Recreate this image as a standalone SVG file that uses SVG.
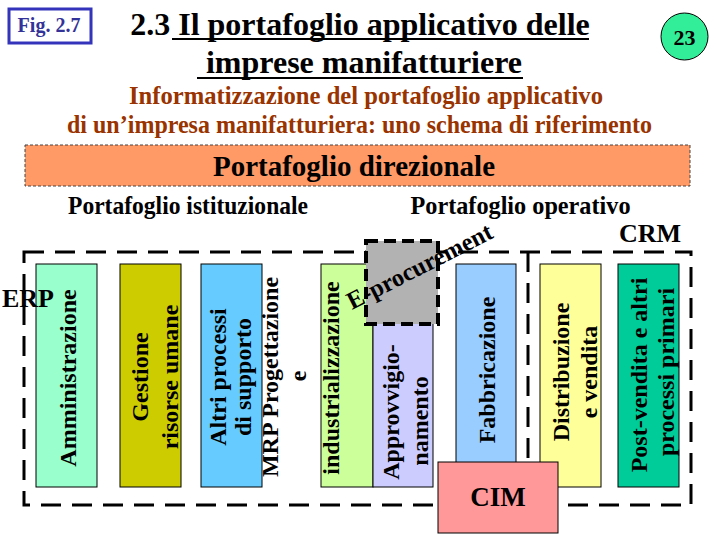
<svg xmlns="http://www.w3.org/2000/svg" width="720" height="540" viewBox="0 0 720 540" font-family="'Liberation Serif', 'DejaVu Serif', 'Times New Roman', serif" font-weight="bold">
<style>
  text { font-family: 'Liberation Serif', 'DejaVu Serif', 'Times New Roman', serif; font-weight: 700; fill: #000; }
  .col { stroke: #000; stroke-width: 1; }
  .vt { font-size: 24px; text-anchor: middle; }
  .dash { fill: none; stroke: #000; stroke-width: 3; stroke-dasharray: 20 11; }
  .sub { font-size: 25px; fill: #993300; text-anchor: middle; }
  .hd { font-size: 26px; text-anchor: middle; }
</style>
<rect width="720" height="540" fill="#fff"/>

<g id="fig-label">
  <rect x="9" y="9" width="82" height="34" fill="#fff" stroke="#3333bb" stroke-width="3"/>
  <text x="49" y="32" font-size="20" text-anchor="middle" style="fill:#333399">Fig. 2.7</text>
</g>

<g id="title">
  <text x="360" y="35" font-size="32" text-anchor="middle">2.3 Il portafoglio applicativo delle</text>
  <line x1="172" y1="39" x2="589" y2="39" stroke="#000" stroke-width="2"/>
  <text x="364" y="73" font-size="32" text-anchor="middle">imprese manifatturiere</text>
  <line x1="197" y1="78" x2="523" y2="78" stroke="#000" stroke-width="2"/>
</g>

<g id="page-number">
  <circle cx="684.5" cy="36.5" r="23.5" fill="#33ee99" stroke="#000" stroke-width="1"/>
  <text x="684.5" y="44.5" font-size="22" text-anchor="middle">23</text>
</g>

<g id="subtitle">
  <text class="sub" x="366" y="104" textLength="474" lengthAdjust="spacingAndGlyphs">Informatizzazione del portafoglio applicativo</text>
  <text class="sub" x="359.5" y="133" textLength="585" lengthAdjust="spacingAndGlyphs">di un’impresa manifatturiera: uno schema di riferimento</text>
</g>

<g id="portafoglio-direzionale">
  <rect x="25" y="145" width="665" height="41" fill="#ff9966" stroke="#444" stroke-width="1" stroke-dasharray="3 2"/>
  <text x="354" y="176" font-size="30" text-anchor="middle" textLength="282" lengthAdjust="spacingAndGlyphs">Portafoglio direzionale</text>
</g>

<g id="headings">
  <text class="hd" x="188" y="214" textLength="240" lengthAdjust="spacingAndGlyphs">Portafoglio istituzionale</text>
  <text class="hd" x="520.5" y="214" textLength="220" lengthAdjust="spacingAndGlyphs">Portafoglio operativo</text>
</g>

<g id="connectors">
  <rect class="dash" x="24" y="252" width="667" height="253"/>
  <line class="dash" x1="528" y1="252" x2="528" y2="505"/>
</g>

<g id="amministrazione">
  <rect class="col" x="36" y="264" width="61" height="223" fill="#99ffcc"/>
  <text class="vt" transform="translate(76,378) rotate(-90)">Amministrazione</text>
</g>

<g id="gestione-risorse-umane">
  <rect class="col" x="120" y="264" width="61" height="223" fill="#cccc00"/>
  <text class="vt" transform="translate(148,377) rotate(-90)">Gestione</text>
  <text class="vt" transform="translate(178,377) rotate(-90)">risorse umane</text>
</g>

<g id="altri-processi">
  <rect class="col" x="201" y="264" width="61" height="223" fill="#66ccff"/>
  <text class="vt" transform="translate(226,377) rotate(-90)">Altri processi</text>
  <text class="vt" transform="translate(251,377) rotate(-90)">di supporto</text>
</g>

<g id="progettazione">
  <rect class="col" x="321" y="264" width="52" height="223" fill="#ccff99"/>
  <text class="vt" transform="translate(278,377) rotate(-90)">MRP Progettazione</text>
  <text class="vt" transform="translate(306,376) rotate(-90)">e</text>
  <text class="vt" transform="translate(339,378) rotate(-90)">industrializzazione</text>
</g>

<g id="approvvigionamento">
  <rect class="col" x="373" y="264" width="60" height="223" fill="#ccccff"/>
  <text class="vt" transform="translate(399,412) rotate(-90)">Approvvigio-</text>
  <text class="vt" transform="translate(428,421) rotate(-90)">namento</text>
</g>

<g id="fabbricazione">
  <rect class="col" x="456" y="264" width="60" height="223" fill="#99ccff"/>
  <text class="vt" transform="translate(495,370) rotate(-90)">Fabbricazione</text>
</g>

<g id="distribuzione">
  <rect class="col" x="540" y="264" width="61" height="223" fill="#ffff99"/>
  <text class="vt" transform="translate(569,372) rotate(-90)">Distribuzione</text>
  <text class="vt" transform="translate(597,372) rotate(-90)">e vendita</text>
</g>

<g id="post-vendita">
  <rect class="col" x="618" y="264" width="61" height="223" fill="#00cc99"/>
  <text class="vt" transform="translate(647,375) rotate(-90)">Post-vendita e altri</text>
  <text class="vt" transform="translate(674,372) rotate(-90)">processi primari</text>
</g>

<g id="erp-label"><text x="2" y="307" font-size="26">ERP</text></g>
<g id="crm-label"><text x="619" y="242" font-size="26">CRM</text></g>

<g id="e-procurement">
  <rect x="366" y="241" width="72" height="83" fill="#b2b2b2" stroke="#000" stroke-width="4" stroke-dasharray="12 6"/>
  <text font-size="25" transform="translate(352,310) rotate(-27)" textLength="160" lengthAdjust="spacingAndGlyphs">E-procurement</text>
</g>

<g id="cim">
  <rect x="438" y="462" width="120" height="71" fill="#ff9999" stroke="#000" stroke-width="1"/>
  <text x="498" y="506" font-size="27" text-anchor="middle">CIM</text>
</g>
</svg>
